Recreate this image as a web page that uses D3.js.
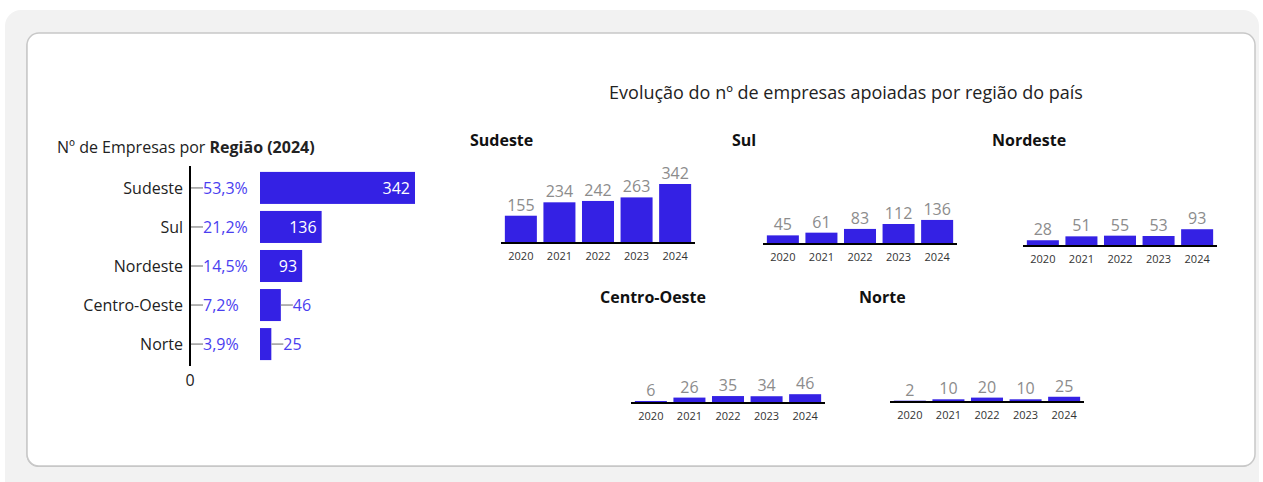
<!DOCTYPE html>
<html>
<head>
<meta charset="utf-8">
<script src="https://cdn.jsdelivr.net/npm/d3@7"></script>
<style>
  body { margin: 0; background: #fff; font-family: "Open Sans", sans-serif; }
  svg { display: block; }
</style>
</head>
<body>
<svg id="chart" width="1263" height="482"></svg>
<script>
// data
var regions = ["Sudeste", "Sul", "Nordeste", "Centro-Oeste", "Norte"];
var total2024 = [342, 136, 93, 46, 25];
var shares = [53.3, 21.2, 14.5, 7.2, 3.9];
var years = ["2020", "2021", "2022", "2023", "2024"];
var sudeste = [155, 234, 242, 263, 342];
var sul = [45, 61, 83, 112, 136];
var nordeste = [28, 51, 55, 53, 93];
var centroOeste = [6, 26, 35, 34, 46];
var norte = [2, 10, 20, 10, 25];

var barColor = "#3421e4";
var pctColor = "#4a3ef0";

var svg = d3.select("#chart");

// background + card
svg.append("rect").attr("x", 5).attr("y", 10).attr("width", 1254).attr("height", 490)
    .attr("rx", 16).style("fill", "#f2f2f2");
svg.append("rect").attr("x", 26.5).attr("y", 34).attr("width", 1228).attr("height", 433)
    .attr("rx", 12).style("fill", "#c4c4c4");
svg.append("rect").attr("x", 27).attr("y", 33).attr("width", 1228).attr("height", 433)
    .attr("rx", 12).style("fill", "#fff").style("stroke", "#c8c8c8").style("stroke-width", 1.5);

// ---------- left: horizontal bars ----------
var left = svg.append("g");

left.append("text")
    .attr("x", 57).attr("y", 153)
    .style("font-size", "16px").style("fill", "#222")
    .call(function (t) {
        t.append("tspan").text("Nº de Empresas por ");
        t.append("tspan").style("font-weight", "bold").text("Região (2024)");
    });

var yBand = d3.scaleBand().domain(regions).range([168, 364])
    .paddingInner(0.18).paddingOuter(0.1);
var xBar = d3.scaleLinear().domain([0, d3.max(total2024)]).range([0, 155]);
var barX0 = 260;

var rows = regions.map(function (r, i) {
    return {name: r, value: total2024[i], share: shares[i]};
});

left.selectAll(".hbar").data(rows).enter().append("rect")
    .attr("x", barX0)
    .attr("y", function (d) { return yBand(d.name); })
    .attr("width", function (d) { return xBar(d.value); })
    .attr("height", yBand.bandwidth())
    .style("fill", barColor);

// axis line
left.append("line").attr("x1", 190).attr("x2", 190).attr("y1", 166).attr("y2", 366)
    .style("stroke", "#000").style("stroke-width", 2);
left.append("text").attr("x", 190).attr("y", 386).attr("text-anchor", "middle")
    .style("font-size", "16px").style("fill", "#222").text("0");

var fmtPct = function (v) { return d3.format(".1f")(v).replace(".", ",") + "%"; };

rows.forEach(function (d) {
    var cy = yBand(d.name) + yBand.bandwidth() / 2;
    left.append("text").attr("x", 183).attr("y", cy).attr("dy", "0.35em")
        .attr("text-anchor", "end").style("font-size", "16px").style("fill", "#222")
        .text(d.name);
    left.append("line").attr("x1", 191).attr("x2", 203).attr("y1", cy).attr("y2", cy)
        .style("stroke", "#999").style("stroke-width", 1.5);
    left.append("text").attr("x", 203).attr("y", cy).attr("dy", "0.35em")
        .style("font-size", "16px").style("fill", pctColor).text(fmtPct(d.share));

    var w = xBar(d.value);
    if (w > 35) {
        left.append("text").attr("x", barX0 + w - 5).attr("y", cy).attr("dy", "0.35em")
            .attr("text-anchor", "end").style("font-size", "16px").style("fill", "#fff")
            .text(d.value);
    } else {
        left.append("line").attr("x1", barX0 + w).attr("x2", barX0 + w + 12)
            .attr("y1", cy).attr("y2", cy)
            .style("stroke", "#999").style("stroke-width", 1.5);
        left.append("text").attr("x", barX0 + w + 12).attr("y", cy).attr("dy", "0.35em")
            .style("font-size", "16px").style("fill", pctColor).text(d.value);
    }
});

// ---------- right: small multiples ----------
svg.append("text").attr("x", 846).attr("y", 99).attr("text-anchor", "middle")
    .style("font-size", "18px").style("fill", "#222")
    .text("Evolução do nº de empresas apoiadas por região do país");

var panels = [
    {name: "Sudeste", values: sudeste, x: 470, y: 140, base: 242},
    {name: "Sul", values: sul, x: 732, y: 140, base: 243},
    {name: "Nordeste", values: nordeste, x: 992, y: 140, base: 245},
    {name: "Centro-Oeste", values: centroOeste, x: 600, y: 297, base: 402},
    {name: "Norte", values: norte, x: 859, y: 297, base: 401}
];

var hScale = d3.scaleLinear().domain([0, d3.max(sudeste)]).range([0, 58]);

panels.forEach(function (p) {
    var g = svg.append("g");
    var ax0 = p.x + 31;
    var xb = d3.scaleBand().domain(years).range([ax0, ax0 + 194])
        .paddingInner(0.17).paddingOuter(0.1);

    g.append("text").attr("x", p.x).attr("y", p.y).attr("dy", "0.35em")
        .style("font-size", "16px").style("font-weight", "bold").style("fill", "#111")
        .text(p.name);

    var data = years.map(function (yr, i) { return {year: yr, value: p.values[i]}; });

    g.selectAll(".vbar").data(data).enter().append("rect")
        .attr("x", function (d) { return xb(d.year); })
        .attr("y", function (d) { return p.base - hScale(d.value); })
        .attr("width", xb.bandwidth())
        .attr("height", function (d) { return hScale(d.value); })
        .style("fill", barColor);

    g.selectAll(".vlab").data(data).enter().append("text")
        .attr("x", function (d) { return xb(d.year) + xb.bandwidth() / 2; })
        .attr("y", function (d) { return p.base - hScale(d.value) - 5; })
        .attr("text-anchor", "middle")
        .style("font-size", "16px").style("fill", "#8c8c8c")
        .text(function (d) { return d.value; });

    g.append("line").attr("x1", ax0).attr("x2", ax0 + 194)
        .attr("y1", p.base + 1).attr("y2", p.base + 1)
        .style("stroke", "#000").style("stroke-width", 2);

    g.selectAll(".ylab").data(data).enter().append("text")
        .attr("x", function (d) { return xb(d.year) + xb.bandwidth() / 2; })
        .attr("y", p.base + 18)
        .attr("text-anchor", "middle")
        .style("font-size", "11px").style("fill", "#333")
        .text(function (d) { return d.year; });
});
</script>
</body>
</html>
